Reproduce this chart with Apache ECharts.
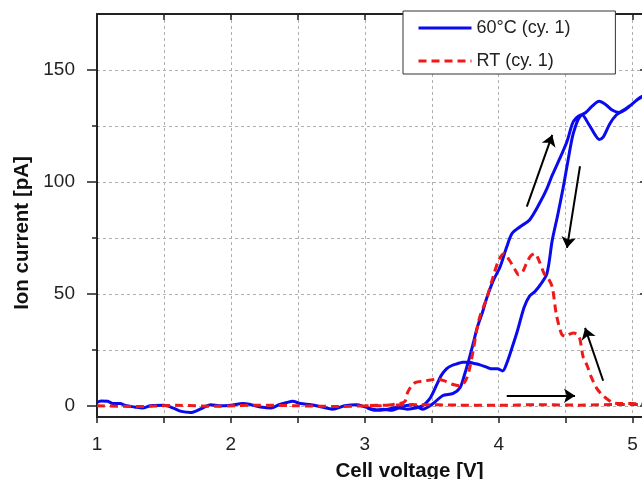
<!DOCTYPE html>
<html>
<head>
<meta charset="utf-8">
<script src="https://cdn.jsdelivr.net/npm/echarts@6/dist/echarts.min.js"></script>
<style>
html,body{margin:0;padding:0;background:#fff;}
#chart{width:642px;height:479px;}
</style>
</head>
<body>
<div id="chart"></div>
<script>
// ---- Data ----
const seriesNames = ['60°C (cy. 1)', 'RT (cy. 1)'];

// 60°C, forward (anodic) sweep
const fwdV60 = [1.0,1.03,1.08,1.12,1.17,1.22,1.28,1.34,1.4,1.5,1.57,1.63,1.7,1.77,1.85,1.92,2.0,2.09,2.15,2.22,2.3,2.36,2.42,2.46,2.52,2.6,2.68,2.76,2.85,2.94,3.0,3.06,3.12,3.21,3.3,3.36,3.43,3.51,3.58,3.66,3.71,3.74,3.77,3.81,3.84,3.88,3.91,3.96,4.01,4.06,4.1,4.16,4.23,4.31,4.36,4.4,4.46,4.51,4.55,4.58,4.62,4.67,4.72,4.75,4.78,4.83,4.88,4.93,4.98,5.03,5.07,5.1];
const fwdI60 = [1.5,2.2,2,1,1,0,-0.5,-1,0,0.2,-1,-2.5,-3,-1.5,0.5,0,0.3,1,0.5,-0.5,-1,0.5,1.5,2,1,0.5,-0.5,-1.5,0,0.5,-0.5,-1.5,-2,-1,0,0.5,-1.5,1,4.5,5.5,8,13,19,28,35,42,48,56,62,71,77,80,83,91,97,103,111,118,126,128.6,130,126,121,119,120,126,130,132,134,136.5,138,139];
// 60°C, reverse (cathodic) sweep
const revV60 = [5.1,5.05,5.0,4.95,4.9,4.85,4.8,4.75,4.7,4.65,4.62,4.6,4.58,4.55,4.51,4.48,4.44,4.4,4.36,4.31,4.27,4.23,4.19,4.14,4.1,4.06,4.03,3.99,3.95,3.92,3.86,3.81,3.77,3.73,3.69,3.65,3.61,3.57,3.54,3.49,3.46,3.43,3.38,3.32,3.26,3.2,3.14,3.08,3.02];
const revI60 = [139,137.5,135,132.5,131,132,134.5,136,134,131,130,128.6,126,120,107,97,85,74,59,54,51,49,44,33.5,26,19,15.6,16.5,16.5,17,18.3,19,19.6,19.5,18.8,18,16.5,13.5,9.8,3.6,1.5,0,-1,-1.5,-1,-2,-1.5,-2,-1];

// RT, forward sweep
const fwdVRT = [1.0,1.3,1.6,1.9,2.2,2.5,2.8,3.1,3.4,3.7,4.0,4.3,4.6,4.9,5.1];
const fwdIRT = [0,-0.3,0.2,-0.2,0.3,0,-0.3,0.2,0.5,0.3,0.2,0.5,0.3,0.6,0.5];
// RT, reverse sweep
const revVRT = [5.1,5.0,4.9,4.85,4.8,4.77,4.73,4.69,4.66,4.63,4.6,4.56,4.53,4.5,4.47,4.43,4.4,4.37,4.34,4.3,4.27,4.24,4.21,4.18,4.15,4.12,4.08,4.04,4.0,3.96,3.91,3.86,3.84,3.81,3.78,3.75,3.71,3.66,3.6,3.54,3.49,3.43,3.38,3.35,3.32,3.3,3.26,3.2,3.1,3.0];
const revIRT = [0.5,1,1,1.5,3.5,5,8,13,18,22,31,32.5,32,31,32,41,53,57,59,65,68,67,64,60,58.5,61,65,68,65,58,48,40,35,25,16,11,9,9.5,11,12,11.5,11,10.5,9,6,2,1,0.5,0,0];

// Annotation arrows (scan direction), in data units
const arrowFrom = [[4.21, 89], [4.607, 107], [4.78, 11.2], [4.06, 4.5]];
const arrowTo   = [[4.40, 121], [4.51, 70.5], [4.645, 34.8], [4.57, 4.5]];

// Axis ticks / labels
const xTicks = [1,1.5,2,2.5,3,3.5,4,4.5,5];
const xLabels = [1,2,3,4,5];
const yMinorTicks = [0,25,50,75,100,125,150];
const yMajorTicks = [0,50,100,150];
const yLabels = [0,50,100,150];

// ---- Build ----
const zip = (xs, ys) => xs.map((x, i) => [x, ys[i]]);
const data60 = zip(fwdV60, fwdI60).concat(zip(revV60, revI60));
const dataRT = zip(fwdVRT, fwdIRT).concat(zip(revVRT, revIRT));
const arrowData = arrowFrom.map((p, i) => ({coords: [p, arrowTo[i]]}));

const FONT = '"Liberation Sans", Arial, Helvetica, sans-serif';
const gridSplit = {show: true, lineStyle: {color: '#b0b0b0', width: 1, type: [3, 3]}};

const chart = echarts.init(document.getElementById('chart'), null, {renderer: 'canvas'});
chart.setOption({
  animation: false,
  backgroundColor: '#fff',
  textStyle: {fontFamily: FONT},
  grid: {left: 97, top: 14, width: 549, height: 403, containLabel: false, outerBoundsMode: 'none'},
  legend: {
    data: seriesNames,
    orient: 'vertical',
    left: 403, top: 11,
    backgroundColor: '#fff',
    borderColor: '#333', borderWidth: 1, borderRadius: 0,
    padding: [8, 45, 4, 14],
    itemWidth: 53, itemHeight: 18, itemGap: 15,
    selectedMode: false,
    itemStyle: {opacity: 0, borderWidth: 0},
    lineStyle: {width: 3},
    textStyle: {fontSize: 18, color: '#222', fontFamily: FONT}
  },
  xAxis: [
    {
      type: 'value', position: 'bottom', min: 1, max: 5.1,
      name: 'Cell voltage [V]', nameLocation: 'middle', nameGap: 44,
      nameTextStyle: {fontSize: 20.5, fontWeight: 'bold', color: '#111', fontFamily: FONT, padding: [0, 0, 0, 76]},
      axisLine: {show: true, onZero: false, lineStyle: {color: '#222', width: 2}},
      axisTick: {show: true, inside: false, length: 6, customValues: xTicks, lineStyle: {color: '#222', width: 1.5}},
      axisLabel: {show: true, customValues: xLabels, fontSize: 19, color: '#222', margin: 18, fontFamily: FONT},
      splitLine: gridSplit
    },
    {
      type: 'value', position: 'top', min: 1, max: 5.1,
      axisLine: {show: true, onZero: false, lineStyle: {color: '#222', width: 2}},
      axisTick: {show: true, inside: true, length: 6, customValues: xTicks, lineStyle: {color: '#222', width: 1.5}},
      axisLabel: {show: false},
      splitLine: {show: false}
    }
  ],
  yAxis: [
    {
      type: 'value', position: 'left', min: -5, max: 175,
      name: 'Ion current [pA]', nameLocation: 'middle', nameGap: 63,
      nameTextStyle: {fontSize: 20.5, fontWeight: 'bold', color: '#111', fontFamily: FONT, padding: [0, 35, 0, 0]},
      axisLine: {show: true, onZero: false, lineStyle: {color: '#222', width: 2}},
      axisTick: {show: true, inside: false, length: 5, customValues: yMinorTicks, lineStyle: {color: '#222', width: 1.5}},
      axisLabel: {show: true, customValues: yLabels, fontSize: 19, color: '#222', margin: 22, fontFamily: FONT},
      splitLine: gridSplit
    },
    {
      type: 'value', position: 'right', min: -5, max: 175,
      axisLine: {show: true, onZero: false, lineStyle: {color: '#222', width: 2}},
      axisTick: {show: true, inside: true, length: 6, customValues: yMajorTicks, lineStyle: {color: '#222', width: 1.5}},
      axisLabel: {show: false},
      splitLine: {show: false}
    },
    {
      type: 'value', position: 'left', offset: 0, min: -5, max: 175,
      axisLine: {show: false},
      axisTick: {show: true, inside: false, length: 10, customValues: yMajorTicks, lineStyle: {color: '#222', width: 1.5}},
      axisLabel: {show: false},
      splitLine: {show: false}
    }
  ],
  series: [
    {
      name: seriesNames[0], type: 'line', xAxisIndex: 0, yAxisIndex: 0,
      data: data60, symbol: 'none', showSymbol: false, smooth: 0.3, clip: true,
      lineStyle: {color: '#0a0aee', width: 3},
      itemStyle: {color: '#0a0aee'},
      z: 3
    },
    {
      name: seriesNames[1], type: 'line', xAxisIndex: 0, yAxisIndex: 0,
      data: dataRT, symbol: 'none', showSymbol: false, smooth: 0.3, clip: true,
      lineStyle: {color: '#f01818', width: 3, type: [8, 5]},
      itemStyle: {color: '#f01818'},
      z: 4
    },
    {
      name: 'arrows', type: 'lines', coordinateSystem: 'cartesian2d', xAxisIndex: 0, yAxisIndex: 0,
      data: arrowData,
      symbol: ['none', 'arrow'], symbolSize: 11,
      lineStyle: {color: '#000', width: 2, opacity: 1, curveness: 0},
      z: 5, silent: true
    }
  ]
});
</script>
</body>
</html>
